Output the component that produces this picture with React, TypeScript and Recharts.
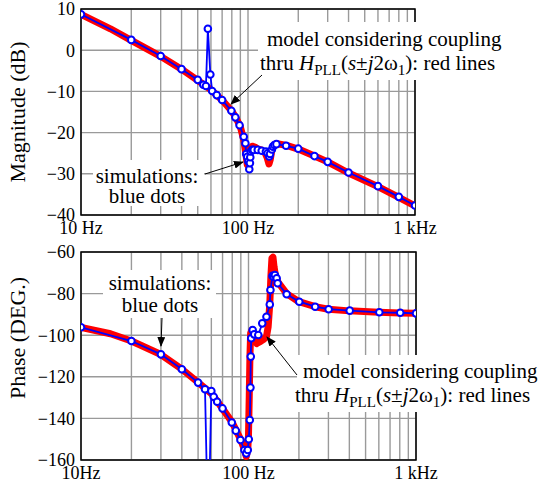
import { LineChart, Line, XAxis, YAxis, CartesianGrid, ReferenceArea } from "recharts";

// frequency grid / tick labels
const freqTicks = [10, 20, 30, 40, 50, 60, 70, 80, 90, 100, 200, 300, 400, 500, 600, 700, 800, 900, 1000];
const magTicks = [-40, -30, -20, -10, 0, 10];
const phaseTicks = [-160, -140, -120, -100, -80, -60];
const magFreqLabels: Record<number, string> = { 10: "10 Hz", 100: "100 Hz", 1000: "1 kHz" };
const phaseFreqLabels: Record<number, string> = { 10: "10Hz", 100: "100 Hz", 1000: "1 kHz" };

// model (red) — magnitude
const modelMagF = [10, 15, 20, 30, 40, 50, 60, 70, 80, 85, 90, 94, 97, 99, 100, 101, 103, 106, 110, 115, 120, 126, 130, 133.5, 136, 139, 142, 145, 150, 170, 200, 250, 300, 400, 600, 800, 1000];
const modelMag = [8.7, 5.2, 2.4, -1.5, -4.6, -7.3, -9.6, -12.1, -14.8, -16.5, -18.6, -21.5, -25, -27.8, -28, -26.5, -24.2, -23.3, -23.5, -24, -24.2, -24.8, -26, -27.6, -26.5, -24.2, -23.2, -22.8, -22.7, -23.1, -24, -25.7, -27.1, -29.8, -33.1, -35.7, -37.8];

// model (red) — phase
const modelPhF = [10, 15, 20, 30, 40, 50, 60, 70, 80, 90, 94, 97, 99, 100, 101, 102, 103, 105, 108, 112, 118, 123, 128, 131, 134, 136, 138, 140, 142, 145, 150, 169, 200, 250, 300, 400, 600, 800, 1000];
const modelPh = [-96.2, -99.3, -102.8, -109.3, -116.3, -122.7, -128, -135.3, -142, -150.3, -154.5, -158.3, -155, -148, -130, -110, -99, -97.5, -101.5, -104, -103, -102, -100.7, -96, -85, -72, -63, -62.5, -67, -71.5, -74.5, -80, -83.9, -86.3, -87.5, -88.3, -89, -89.3, -89.5];

// simulations (blue) — magnitude
const simMagF = [10, 20, 30, 40, 50, 54, 56, 57.5, 59.5, 61, 65, 70, 79.5, 84, 89, 94.3, 96.5, 97.5, 99, 100.4, 101.8, 102.7, 103.2, 103.8, 105.9, 108.2, 114.4, 120.8, 128, 131, 134, 135.5, 139, 141, 144, 148, 169, 200, 250, 300, 400, 600, 800, 1000];
const simMag = [8.7, 2.5, -1.4, -4.6, -7.2, -8.4, -8.7, 5.2, -5.9, -9.9, -10.9, -12.1, -14.7, -16.3, -18.2, -21, -22.6, -25.2, -25.9, -27, -28.9, -27.4, -26, -24.6, -24.2, -24.2, -24.2, -24.4, -24.6, -25, -25.8, -25.2, -24.1, -23.4, -23, -22.8, -23.2, -23.9, -25.7, -27.1, -29.7, -33, -35.6, -37.7];

// simulations (blue) — phase
const simPhF = [10, 20, 30, 40, 50, 55, 57.5, 60, 62, 65, 70, 79.5, 84, 89.5, 94.5, 97, 99, 100.4, 101.8, 102.7, 103.2, 103.8, 105.9, 108.2, 114.4, 120.8, 128, 134, 135.2, 139.1, 141, 143.8, 147.3, 149.3, 169, 201, 250, 301, 402, 604, 805, 1000];
const simPh = [-96.2, -102.8, -109.2, -116.4, -122.8, -126, -200, -126.8, -129.6, -132, -135.2, -142, -145.9, -150.4, -155.2, -156.8, -155.2, -150, -140.8, -125.2, -110.3, -101.5, -97.5, -99.6, -99.9, -94.3, -91.1, -85.2, -78.3, -71.5, -71.9, -71.1, -72.6, -75, -80.3, -83.9, -86.3, -87.5, -88.2, -89, -89.2, -89.5];

const pts = (f: number[], v: number[]) => f.map((x, i) => ({ f: x, v: v[i] }));

const FONT = "Liberation Serif, Times New Roman, serif";
const tickStyle = { fontSize: 18, fill: "#000", style: { fontFamily: FONT } };
const minus = (v: number) => (v < 0 ? `\u2212${-v}` : `${v}`);

function Panel(props: {
  height: number; top: number; right: number;
  yDomain: [number, number]; yTicks: number[];
  labels: Record<number, string>;
  model: { f: number; v: number }[]; sim: { f: number; v: number }[];
}) {
  const { yDomain } = props;
  return (
    <LineChart width={542} height={props.height} margin={{ top: props.top, right: props.right, bottom: 0, left: 0 }}
      style={{ fontFamily: FONT }}>
      <CartesianGrid stroke="#9a9a9a" strokeWidth={1.4} />
      <XAxis dataKey="f" type="number" scale="log" domain={[10, 1000]} allowDataOverflow
        ticks={freqTicks} interval={0} tickFormatter={(v) => props.labels[v] ?? ""}
        height={25} tickSize={0} tickMargin={6} axisLine={false} tickLine={false} tick={tickStyle} />
      <YAxis type="number" domain={yDomain} allowDataOverflow ticks={props.yTicks} interval={0}
        tickFormatter={minus} width={81} tickSize={0} tickMargin={6} axisLine={false} tickLine={false} tick={tickStyle} />
      <ReferenceArea x1={10} x2={1000} y1={yDomain[0]} y2={yDomain[1]} fill="none" stroke="#000" strokeWidth={1.5} />
      <Line data={props.model} dataKey="v" type="linear" stroke="#ff0000" strokeWidth={7}
        strokeLinejoin="round" dot={false} isAnimationActive={false} />
      <Line data={props.sim} dataKey="v" type="linear" stroke="#0000ff" strokeWidth={1.8}
        dot={{ r: 3.3, fill: "#fff", stroke: "#0000ff", strokeWidth: 2 }} isAnimationActive={false} />
    </LineChart>
  );
}

function ModelLabel({ x1, x2, y }: { x1: number; x2: number; y: number }) {
  return (
    <>
      <text x={x1} y={y}>model considering coupling</text>
      <text x={x2} y={y + 24}>
        thru <tspan fontStyle="italic">H</tspan>
        <tspan fontSize={15} dy={5}>PLL</tspan>
        <tspan dy={-5}>(</tspan><tspan fontStyle="italic">s</tspan>±<tspan fontStyle="italic">j</tspan>2ω
        <tspan fontSize={15} dy={5}>1</tspan>
        <tspan dy={-5}>): red lines</tspan>
      </text>
    </>
  );
}

export default function App() {
  return (
    <div style={{ position: "absolute", left: 0, top: 0, width: 542, height: 485, background: "#fff", fontFamily: FONT }}>
      <div style={{ position: "absolute", left: 0, top: 0 }}>
        <Panel height={240} top={9} right={127} yDomain={[-40, 10]} yTicks={magTicks}
          labels={magFreqLabels} model={pts(modelMagF, modelMag)} sim={pts(simMagF, simMag)} />
      </div>
      <div style={{ position: "absolute", left: 0, top: 240 }}>
        <Panel height={245} top={12} right={126} yDomain={[-160, -60]} yTicks={phaseTicks}
          labels={phaseFreqLabels} model={pts(modelPhF, modelPh)} sim={pts(simPhF, simPh)} />
      </div>
      <svg width={542} height={485} style={{ position: "absolute", left: 0, top: 0, pointerEvents: "none", fontFamily: FONT }}
        fontSize={21} fill="#000">
        <defs>
          <marker id="ah" markerWidth="10" markerHeight="8" refX="9" refY="4" orient="auto" markerUnits="userSpaceOnUse">
            <path d="M0,0 L10,4 L0,8 Z" fill="#000" />
          </marker>
        </defs>
        {/* axis titles */}
        <text transform="translate(25,112) rotate(-90)" textAnchor="middle" fontSize={22}>Magnitude (dB)</text>
        <text transform="translate(25,338) rotate(-90)" textAnchor="middle" fontSize={22}>Phase (DEG.)</text>

        {/* top panel notes */}
        <rect x={258} y={22} width={284} height={58} fill="#fff" />
        <ModelLabel x1={267} x2={260} y={46} />
        <line x1={262} y1={75} x2={231} y2={104} stroke="#000" strokeWidth={1} markerEnd="url(#ah)" />
        <rect x={93} y={160} width={111} height={46} fill="#fff" />
        <text x={147} y={183} textAnchor="middle">simulations:</text>
        <text x={147} y={203} textAnchor="middle">blue dots</text>
        <line x1={205} y1={174} x2={243} y2={162} stroke="#000" strokeWidth={1} markerEnd="url(#ah)" />

        {/* bottom panel notes */}
        <rect x={103} y={270} width={113} height={48} fill="#fff" />
        <text x={160} y={290} textAnchor="middle">simulations:</text>
        <text x={160} y={312} textAnchor="middle">blue dots</text>
        <line x1={162} y1={318} x2={161} y2={346} stroke="#000" strokeWidth={1} markerEnd="url(#ah)" />
        <rect x={297} y={355} width={245} height={57} fill="#fff" />
        <ModelLabel x1={303} x2={295} y={378} />
        <line x1={297} y1={375} x2={267} y2={337} stroke="#000" strokeWidth={1} markerEnd="url(#ah)" />
      </svg>
    </div>
  );
}
